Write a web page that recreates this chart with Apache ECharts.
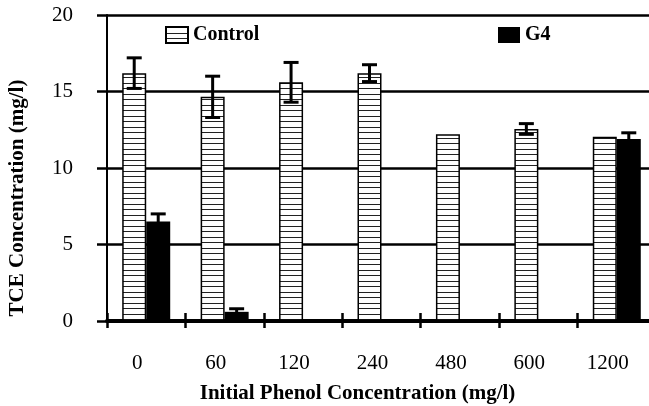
<!DOCTYPE html>
<html>
<head>
<meta charset="utf-8">
<script src="https://cdn.jsdelivr.net/npm/echarts@6/dist/echarts.min.js"></script>
<style>
  html, body { margin: 0; padding: 0; background: #fff; }
  #chart { width: 649px; height: 406px; }
</style>
</head>
<body>
<div id="chart"></div>
<script>
// data
var categories = ['0', '60', '120', '240', '480', '600', '1200'];
var controlValues = [16.2, 14.65, 15.6, 16.2, 12.2, 12.55, 12.05];
var controlErr = [1.0, 1.35, 1.3, 0.55, 0, 0.35, 0];
var g4Values = [6.5, 0.6, 0, 0, 0, 0, 11.9];
var g4Err = [0.5, 0.2, 0, 0, 0, 0, 0.4];
var yTicks = [0, 5, 10, 15, 20];

var font = '"Liberation Serif", "DejaVu Serif", serif';

// horizontal stripes for the control bars
var stripe = document.createElement('canvas');
stripe.width = 8;
stripe.height = 11;
var ctx = stripe.getContext('2d');
ctx.fillStyle = '#fff';
ctx.fillRect(0, 0, 8, 11);
ctx.fillStyle = '#222';
ctx.fillRect(0, 0, 8, 1);
ctx.fillRect(0, 6, 8, 1);

// error bar data: [category, low, high, side]
function errData(vals, errs, side) {
    var out = [];
    for (var i = 0; i < vals.length; i++) {
        if (errs[i] > 0) {
            out.push([i, vals[i] - errs[i], vals[i] + errs[i], side]);
        }
    }
    return out;
}

function renderErr(params, api) {
    var top = api.coord([api.value(0), api.value(2)]);
    var bot = api.coord([api.value(0), api.value(1)]);
    var x = top[0] + api.value(3) * 12;
    var half = 7.5;
    var st = { stroke: '#000', lineWidth: 3 };
    return {
        type: 'group',
        children: [
            { type: 'line', shape: { x1: x, y1: top[1], x2: x, y2: bot[1] }, style: st },
            { type: 'line', shape: { x1: x - half, y1: top[1], x2: x + half, y2: top[1] }, style: st },
            { type: 'line', shape: { x1: x - half, y1: bot[1], x2: x + half, y2: bot[1] }, style: st }
        ]
    };
}

var legendText = { fontFamily: font, fontWeight: 'bold', fontSize: 20, color: '#000' };

var myChart = echarts.init(document.getElementById('chart'));
var option = {
    animation: false,
    backgroundColor: '#fff',
    grid: { left: 107, right: -7, top: 15, bottom: 85, outerBoundsMode: 'none', containLabel: false },
    legend: [
        {
            left: 165, top: 25, padding: 0,
            data: ['Control'],
            icon: 'rect',
            itemWidth: 22, itemHeight: 16,
            textStyle: legendText
        },
        {
            left: 498, top: 25, padding: 0,
            data: ['G4'],
            icon: 'rect',
            itemWidth: 22, itemHeight: 16,
            textStyle: legendText
        }
    ],
    xAxis: [
        {
            type: 'category',
            data: categories,
            boundaryGap: true,
            axisLine: { lineStyle: { color: '#000', width: 4 } },
            axisTick: { show: true, length: 7, lineStyle: { color: '#000', width: 2.5 } },
            axisLabel: { margin: 32, fontFamily: font, fontSize: 21, color: '#000', padding: [0, 18, 0, 0] },
            name: 'Initial Phenol Concentration (mg/l)',
            nameLocation: 'middle',
            nameGap: 62,
            nameTextStyle: { fontFamily: font, fontWeight: 'bold', fontSize: 21, color: '#000', padding: [0, 48, 0, 0] }
        },
        {
            type: 'category',
            data: categories,
            position: 'bottom',
            boundaryGap: true,
            axisLine: { show: false },
            axisTick: { show: true, inside: true, length: 8, lineStyle: { color: '#000', width: 2.5 } },
            axisLabel: { show: false }
        }
    ],
    yAxis: {
        type: 'value',
        min: yTicks[0],
        max: yTicks[yTicks.length - 1],
        interval: 5,
        axisLine: { show: true, lineStyle: { color: '#000', width: 2 } },
        axisTick: { show: true, length: 10, lineStyle: { color: '#000', width: 2.5 } },
        axisLabel: { margin: 34, fontFamily: font, fontSize: 21, color: '#000' },
        splitLine: { show: true, lineStyle: { color: '#000', width: 2.5 } }
    },
    graphic: [
        {
            type: 'text',
            x: 18, y: 198,
            rotation: Math.PI / 2,
            style: {
                text: 'TCE Concentration (mg/l)',
                font: 'bold 21px ' + font,
                fill: '#000',
                align: 'center',
                verticalAlign: 'middle'
            }
        }
    ],
    series: [
        {
            name: 'Control',
            type: 'bar',
            barWidth: 24,
            barGap: '0%',
            data: controlValues,
            itemStyle: {
                color: { image: stripe, repeat: 'repeat' },
                borderColor: '#000',
                borderWidth: 1.5
            }
        },
        {
            name: 'G4',
            type: 'bar',
            barWidth: 24,
            barGap: '0%',
            data: g4Values,
            itemStyle: { color: '#000' }
        },
        {
            type: 'custom',
            renderItem: renderErr,
            data: errData(controlValues, controlErr, -1).concat(errData(g4Values, g4Err, 1)),
            z: 10,
            silent: true
        }
    ]
};
myChart.setOption(option);
</script>
</body>
</html>
